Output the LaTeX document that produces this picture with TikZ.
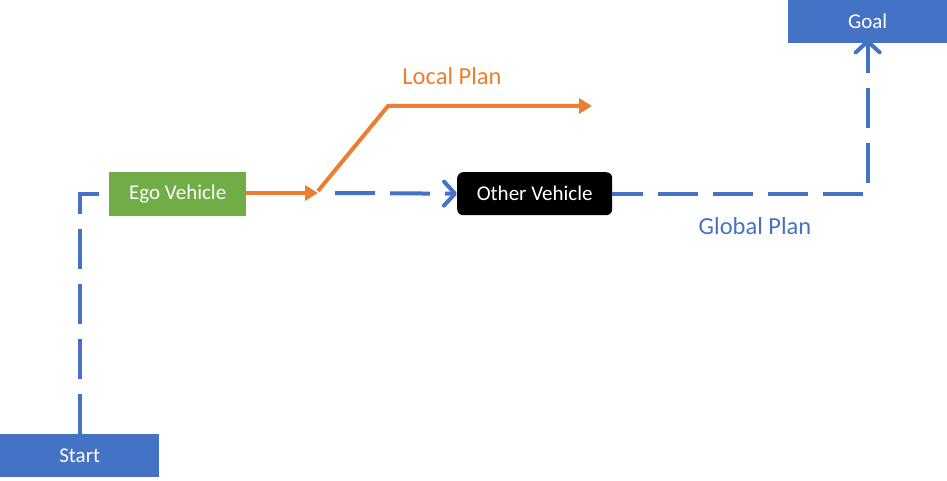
\documentclass[tikz,border=0pt]{standalone}
\usepackage{fontspec}
\setmainfont{Carlito}
\usetikzlibrary{arrows.meta}
\definecolor{cblue}{HTML}{4472C4}
\definecolor{cgreen}{HTML}{70AD47}
\definecolor{corange}{HTML}{ED7D31}
\begin{document}
\begin{tikzpicture}[x=1pt,y=-1pt,
  boxnode/.style={anchor=north west,inner sep=0pt},
  boxtext/.style={text=white,font=\fontsize{21}{24}\selectfont},
  globalline/.style={draw=cblue,line width=4pt,dash pattern=on 40pt off 15pt},
  localline/.style={draw=corange,line width=4pt},
  chev/.style={-{Straight Barb[length=11pt,width=24pt,line cap=round,line join=round]}},
  tri/.style={-{Triangle[length=13pt,width=15pt]}},
  lbl/.style={font=\fontsize{24.5}{28}\selectfont}]
\useasboundingbox (0,0) rectangle (947,481);
\node[boxnode,fill=cblue,minimum width=159pt,minimum height=43pt] (start) at (0,434) {};
\node[boxtext] at (start.center) {Start};
\node[boxnode,fill=cblue,minimum width=159pt,minimum height=43pt] (goal) at (788,0) {};
\node[boxtext] at (goal.center) {Goal};
\node[boxnode,fill=cgreen,minimum width=137pt,minimum height=44pt] (ego) at (109,172) {};
\node[boxtext] at (ego.center) {Ego Vehicle};
\node[boxnode,fill=black,rounded corners=6pt,minimum width=155pt,minimum height=43pt] (other) at (457,172) {};
\node[boxtext] at (other.center) {Other Vehicle};
\coordinate (k) at (318,193);
\coordinate (k2) at (388,106);
\coordinate (k3) at (592,106);
% global plan
\draw[globalline] (start.north) |- ([xshift=-10pt]ego.west);
\draw[globalline,chev,dash phase=0pt] ([xshift=17pt]k) -- (other.west);
\draw[globalline,chev,dash phase=9pt] (other.east) -| ([yshift=4pt]goal.south);
% local plan
\draw[localline,tri] (ego.east |- k) -- (k);
\draw[localline,tri,line join=miter] ([yshift=2pt]k) -- (k2) -- (k3);
\node[lbl,text=corange] (lp) at (452,76) {Local Plan};
\node[lbl,text=cblue] (gp) at (755,226) {Global Plan};
\end{tikzpicture}
\end{document}
